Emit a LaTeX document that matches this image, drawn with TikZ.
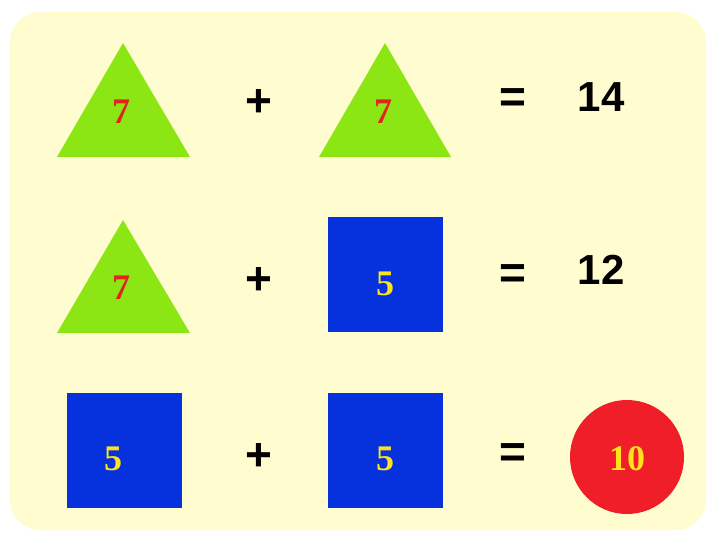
\documentclass[tikz,border=0pt]{standalone}
\usepackage{fontspec}
\setmainfont{Liberation Serif}
\newfontfamily\opfont{Liberation Sans}
\usetikzlibrary{shapes.geometric}
\definecolor{bgyellow}{RGB}{255,252,208}
\definecolor{trigreen}{RGB}{140,230,20}
\definecolor{sqblue}{RGB}{5,50,220}
\definecolor{circred}{RGB}{240,30,40}
\definecolor{numred}{RGB}{225,35,30}
\definecolor{numyellow}{RGB}{255,225,30}
\tikzset{
  tri/.style={fill=trigreen},
  sq/.style={fill=sqblue},
  redval/.style={text=numred,font=\bfseries\fontsize{36}{36}\selectfont},
  yelval/.style={text=numyellow,font=\bfseries\fontsize{36}{36}\selectfont},
  op/.style={font=\opfont\bfseries\fontsize{46}{46}\selectfont},
  res/.style={font=\opfont\bfseries\fontsize{42}{42}\selectfont},
}
\begin{document}
\begin{tikzpicture}[x=1pt,y=-1pt]
\useasboundingbox (0,0) rectangle (714,533);
\fill[white] (0,0) rectangle (714,533);
\fill[bgyellow,rounded corners=30pt] (10,12) rectangle (706,530);
% row 1
\fill[tri] (123,43) -- (190,157) -- (57,157) -- cycle;
\fill[tri] (385,43) -- (451,157) -- (319,157) -- cycle;
\node[redval] (t1) at (121,112) {7};
\node[op] (p1) at (259,103) {+};
\node[redval] (t2) at (383,112) {7};
\node[op] (e1) at (513,101) {=};
\node[res] (r1) at (601,97) {14};
% row 2
\fill[tri] (123,220) -- (190,333) -- (57,333) -- cycle;
\fill[sq] (328,217) rectangle (443,332);
\node[redval] (t3) at (121,288) {7};
\node[op] (p2) at (259,281) {+};
\node[yelval] (s1) at (385,284) {5};
\node[op] (e2) at (513,277) {=};
\node[res] (r2) at (601,270) {12};
% row 3
\fill[sq] (67,393) rectangle (182,508);
\fill[sq] (328,393) rectangle (443,508);
\fill[circred] (627,457) circle (57);
\node[yelval] (s2) at (113,459) {5};
\node[op] (p3) at (259,457) {+};
\node[yelval] (s3) at (385,459) {5};
\node[op] (e3) at (513,456) {=};
\node[yelval] (c1) at (627,459) {10};
\end{tikzpicture}
\end{document}
